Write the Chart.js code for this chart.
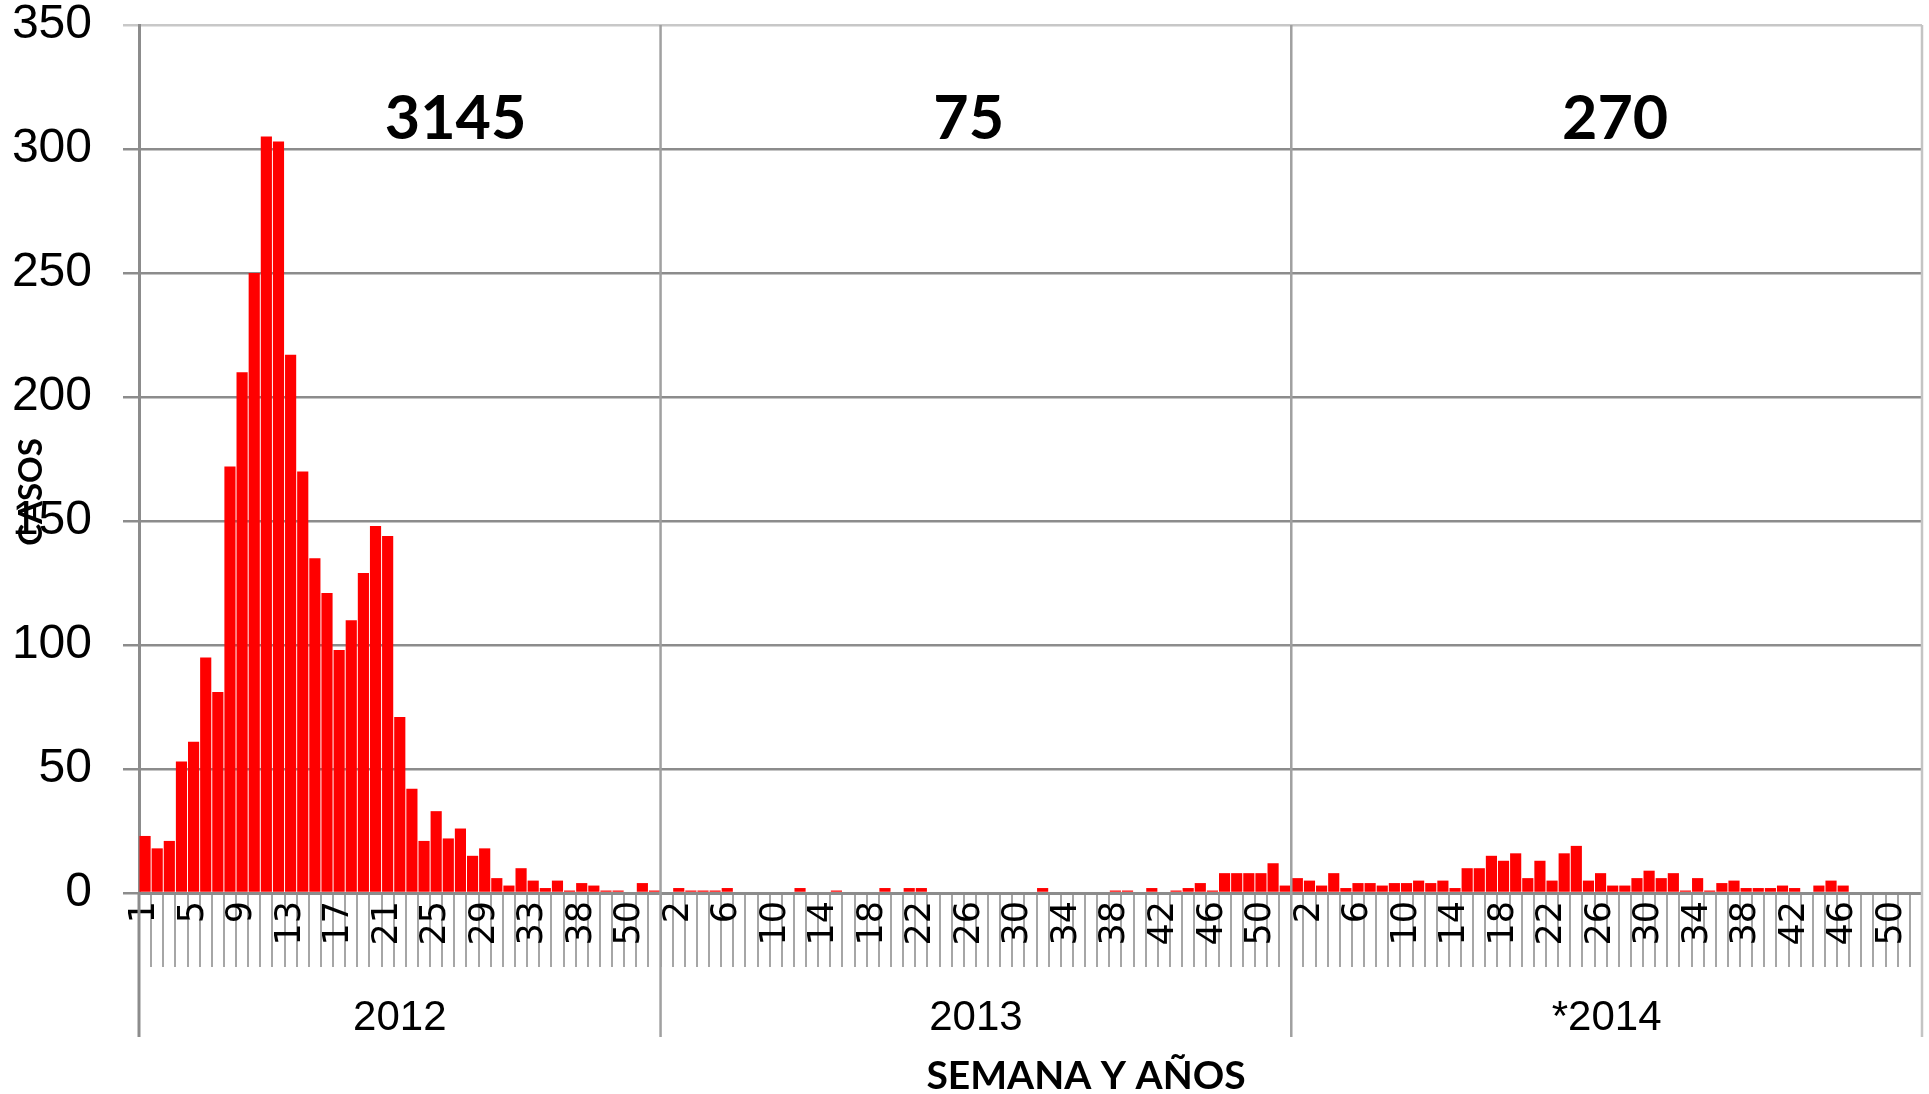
<!DOCTYPE html>
<html>
<head>
<meta charset="utf-8">
<script src="https://cdn.jsdelivr.net/npm/chart.js@4.4.0/dist/chart.umd.min.js"></script>
<style>
  html, body { margin: 0; padding: 0; background: #fff; }
  #wrap { width: 1929px; height: 1094px; }
</style>
</head>
<body>
<div id="wrap"><canvas id="chart"></canvas></div>
<script>
// weeks present in each year (2012 skips some weeks with no notification)
const weeks2012 = [1, 2, 3, 4, 5, 6, 7, 8, 9, 10, 11, 12, 13, 14, 15, 16, 17, 18, 19, 20,
  21, 22, 23, 24, 25, 26, 27, 28, 29, 30, 31, 32, 33, 34, 35, 36, 38, 39, 40, 45, 50, 51, 52];
const cases2012 = [23, 18, 21, 53, 61, 95, 81, 172, 210, 250, 305, 303, 217, 170, 135, 121, 98, 110, 129, 148,
  144, 71, 42, 21, 33, 22, 26, 15, 18, 6, 3, 10, 5, 2, 5, 1, 4, 3, 1, 1, 0, 4, 1];

const weeks2013 = [1, 2, 3, 4, 5, 6, 7, 8, 9, 10, 11, 12, 13, 14, 15, 16, 17, 18, 19, 20, 21, 22, 23, 24, 25, 26,
  27, 28, 29, 30, 31, 32, 33, 34, 35, 36, 37, 38, 39, 40, 41, 42, 43, 44, 45, 46, 47, 48, 49, 50, 51, 52];
const cases2013 = [0, 2, 1, 1, 1, 2, 0, 0, 0, 0, 0, 2, 0, 0, 1, 0, 0, 0, 2, 0, 2, 2, 0, 0, 0, 0,
  0, 0, 0, 0, 0, 2, 0, 0, 0, 0, 0, 1, 1, 0, 2, 0, 1, 2, 4, 1, 8, 8, 8, 8, 12, 3];

const weeks2014 = [1, 2, 3, 4, 5, 6, 7, 8, 9, 10, 11, 12, 13, 14, 15, 16, 17, 18, 19, 20, 21, 22, 23, 24, 25, 26,
  27, 28, 29, 30, 31, 32, 33, 34, 35, 36, 37, 38, 39, 40, 41, 42, 43, 44, 45, 46, 47, 48, 49, 50, 51, 52];
const cases2014 = [6, 5, 3, 8, 2, 4, 4, 3, 4, 4, 5, 4, 5, 2, 10, 10, 15, 13, 16, 6, 13, 5, 16, 19, 5, 8,
  3, 3, 6, 9, 6, 8, 1, 6, 1, 4, 5, 2, 2, 2, 3, 2, 0, 3, 5, 3, 0, 0, 0, 0, 0, 0];

const years = ["2012", "2013", "*2014"];
const yearTotals = ["3145", "75", "270"];

const labels = [...weeks2012, ...weeks2013, ...weeks2014].map(String);
const values = [...cases2012, ...cases2013, ...cases2014];

// where the totals sit (category index, y value)
const totalAt = [25.6, 67.9, 121.2];
const totalY = 312;

const line = (ctx, x1, y1, x2, y2) => {
  ctx.beginPath();
  ctx.moveTo(x1, y1);
  ctx.lineTo(x2, y2);
  ctx.stroke();
};

const overlay = {
  id: "overlay",
  afterDraw(chart) {
    const { ctx, chartArea: area, scales: { x, y } } = chart;
    const half = (x.getPixelForValue(1) - x.getPixelForValue(0)) / 2;
    const ends = [cases2012.length, cases2012.length + cases2013.length];
    const cuts = ends.map((n) => x.getPixelForValue(n - 1) + half);
    const axisBottom = 1037;

    ctx.save();
    ctx.lineWidth = 2.5;
    ctx.strokeStyle = "#a0a0a0";
    cuts.forEach((cx) => line(ctx, cx, area.top, cx, axisBottom));

    ctx.lineWidth = 3;
    ctx.strokeStyle = "#8c8c8c";
    line(ctx, area.left, area.bottom, area.left, axisBottom);

    ctx.lineWidth = 2.5;
    ctx.strokeStyle = "#c4c4c4";
    line(ctx, area.right, area.top, area.right, axisBottom);

    const bounds = [area.left, ...cuts, area.right];
    ctx.fillStyle = "#000";
    ctx.textAlign = "center";
    ctx.textBaseline = "middle";
    ctx.font = '42px "Liberation Sans"';
    years.forEach((t, i) => ctx.fillText(t, (bounds[i] + bounds[i + 1]) / 2, 1018));

    ctx.font = "bold 61px Lato";
    yearTotals.forEach((t, i) => ctx.fillText(t, x.getPixelForValue(totalAt[i]), y.getPixelForValue(totalY)));

    ctx.font = "bold 39px Lato";
    ctx.fillText("SEMANA Y AÑOS", 1086, 1076);

    ctx.translate(31, 492);
    ctx.rotate(-Math.PI / 2);
    ctx.font = "bold 33px Lato";
    ctx.fillText("CASOS", 0, 0);
    ctx.restore();
  }
};

new Chart(document.getElementById("chart"), {
  type: "bar",
  data: {
    labels: labels,
    datasets: [{
      data: values,
      backgroundColor: "#ff0000",
      barPercentage: 0.92,
      categoryPercentage: 1
    }]
  },
  options: {
    responsive: true,
    maintainAspectRatio: false,
    animation: false,
    layout: { padding: { top: 25, right: 7, bottom: 0, left: 0 } },
    plugins: {
      legend: { display: false },
      tooltip: { enabled: false }
    },
    scales: {
      x: {
        grid: { offset: true, drawOnChartArea: false, tickLength: 74, color: "#a6a6a6", lineWidth: 2 },
        border: { color: "#8c8c8c", width: 3 },
        ticks: {
          autoSkip: false,
          minRotation: 90,
          maxRotation: 90,
          padding: -66,
          color: "#000",
          font: { family: "DejaVu Sans", size: 35 },
          callback: (v, i) => (i % 4 === 0 ? labels[i] : "")
        },
        afterFit: (s) => {
          s.height = 201;
          s.paddingLeft = 0;
          s.paddingRight = 0;
        }
      },
      y: {
        min: 0,
        max: 350,
        ticks: { stepSize: 50, padding: 31, color: "#000", font: { family: "Liberation Sans", size: 48 } },
        grid: {
          color: (c) => (c.tick && c.tick.value === 350 ? "#c8c8c8" : "#8c8c8c"),
          lineWidth: 2.5,
          tickLength: 16
        },
        border: { color: "#8c8c8c", width: 3 },
        afterFit: (s) => {
          s.width = 139;
          s.paddingTop = 0;
          s.paddingBottom = 0;
        }
      }
    }
  },
  plugins: [overlay]
});
</script>
</body>
</html>
